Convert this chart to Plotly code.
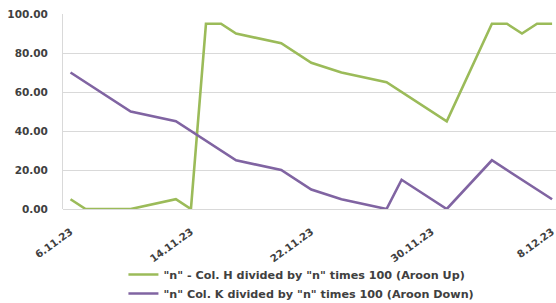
import plotly.graph_objects as go

# Aroon Up (green) series
dates_up = ["2023-11-06", "2023-11-07", "2023-11-10", "2023-11-13", "2023-11-14",
            "2023-11-15", "2023-11-16", "2023-11-17", "2023-11-20", "2023-11-22",
            "2023-11-24", "2023-11-27", "2023-12-01", "2023-12-04", "2023-12-05",
            "2023-12-06", "2023-12-07", "2023-12-08"]
aroon_up = [5, 0, 0, 5, 0, 95, 95, 90, 85, 75, 70, 65, 45, 95, 95, 90, 95, 95]

# Aroon Down (purple) series
dates_down = ["2023-11-06", "2023-11-10", "2023-11-13", "2023-11-17", "2023-11-20",
              "2023-11-22", "2023-11-24", "2023-11-27", "2023-11-28", "2023-12-01",
              "2023-12-04", "2023-12-08"]
aroon_down = [70, 50, 45, 25, 20, 10, 5, 0, 15, 0, 25, 5]

tick_dates = ["2023-11-06", "2023-11-14", "2023-11-22", "2023-11-30", "2023-12-08"]
tick_labels = ["6.11.23", "14.11.23", "22.11.23", "30.11.23", "8.12.23"]

name_up = '"n" - Col. H divided by "n" times 100 (Aroon Up)'
name_down = '"n" Col. K divided by "n" times 100 (Aroon Down)'

FONT = "DejaVu Sans"
TXT = "#404040"

fig = go.Figure()
fig.add_trace(go.Scatter(x=dates_up, y=aroon_up, mode="lines", name=name_up,
                         line=dict(color="#9BBB59", width=2.6)))
fig.add_trace(go.Scatter(x=dates_down, y=aroon_down, mode="lines", name=name_down,
                         line=dict(color="#8064A2", width=2.6)))

fig.update_layout(
    width=556, height=303,
    margin=dict(l=63, r=0, t=14, b=94, autoexpand=False),
    paper_bgcolor="white", plot_bgcolor="white",
    font=dict(family=FONT, size=11, color=TXT),
    showlegend=True,
    legend=dict(orientation="v", xref="container", yref="container",
                x=0.222, xanchor="left", y=0.142, yanchor="top",
                font=dict(family=FONT, size=11.2, color=TXT, weight="bold"),
                itemwidth=30, bgcolor="rgba(0,0,0,0)"),
)
fig.update_xaxes(
    type="date", automargin=False,
    range=["2023-11-05 12:00", "2023-12-08 06:14"],
    tickvals=tick_dates, ticktext=tick_labels, tickangle=-36,
    ticklabeloverflow="allow", ticklabelstandoff=14,
    showgrid=False, zeroline=False, showline=False,
    ticks="", tickfont=dict(family=FONT, size=10.2, color=TXT, weight="bold"),
)
fig.update_yaxes(
    automargin=False,
    range=[0, 100], dtick=20, tickformat=".2f",
    showgrid=True, gridcolor="#D9D9D9", gridwidth=1,
    zeroline=True, zerolinecolor="#D9D9D9", zerolinewidth=1,
    showline=True, linecolor="#D9D9D9", linewidth=1,
    ticks="", ticklabelstandoff=12,
    tickfont=dict(family=FONT, size=10.5, color=TXT, weight="bold"),
)

fig.write_html("out.html", config={"displayModeBar": False},
               post_script="document.body.style.margin='0';document.body.style.overflow='hidden';")
